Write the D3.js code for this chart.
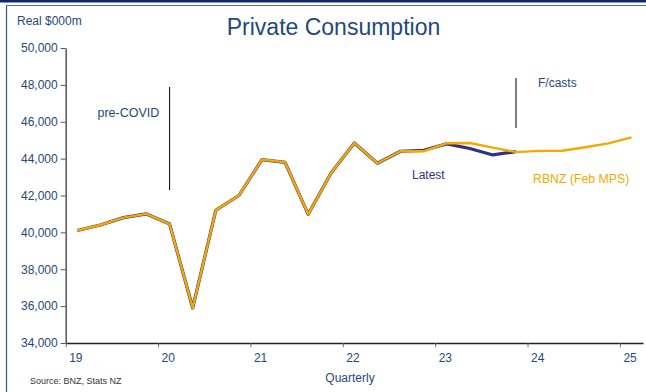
<!DOCTYPE html>
<html>
<head>
<meta charset="utf-8">
<script src="https://cdn.jsdelivr.net/npm/d3@7"></script>
<style>
  body { margin: 0; background: #fff; }
  text { font-family: "Liberation Sans", Arial, sans-serif; }
</style>
</head>
<body>
<div class="chart-container"></div>
<script>
// Data
const quarters = [
    '19Q1', '19Q2', '19Q3', '19Q4',
    '20Q1', '20Q2', '20Q3', '20Q4',
    '21Q1', '21Q2', '21Q3', '21Q4',
    '22Q1', '22Q2', '22Q3', '22Q4',
    '23Q1', '23Q2', '23Q3', '23Q4',
    '24Q1', '24Q2', '24Q3', '24Q4',
    '25Q1'
];
const latest = [
    40100, 40400, 40800, 41000,
    40450, 35900, 41200, 42000,
    43950, 43800, 40980, 43230,
    44850, 43750, 44400, 44450,
    44800, 44550, 44200, 44380
];
const rbnz = [
    40100, 40400, 40800, 41000,
    40450, 35900, 41200, 42000,
    43950, 43800, 40980, 43230,
    44850, 43750, 44400, 44400,
    44830, 44850, 44600, 44350,
    44420, 44430, 44620, 44830,
    45150
];
const yTicks = [34000, 36000, 38000, 40000, 42000, 44000, 46000, 48000, 50000];
const xTicks = [19, 20, 21, 22, 23, 24, 25];

// quarter label -> position on year axis (mid quarter)
const qPos = q => +q.slice(0, 2) + (+q.slice(3) - 0.5) / 4;

const navy = '#1F497D';
const orange = '#F5A800';
const blue = '#2E3185';

const svgWidth = 646;
const svgHeight = 392;

const svg = d3.select('.chart-container')
    .append('svg')
    .attr('width', svgWidth)
    .attr('height', svgHeight);

// Frame
svg.append('rect').attr('x', 0).attr('y', 0).attr('width', svgWidth).attr('height', 2.5).style('fill', '#0B2A66');
svg.append('line').attr('x1', 6.5).attr('x2', svgWidth).attr('y1', 5.5).attr('y2', 5.5)
    .style('stroke', '#5B6B8C').style('stroke-width', 1.2);
svg.append('line').attr('x1', 6.5).attr('x2', 6.5).attr('y1', 5.5).attr('y2', svgHeight)
    .style('stroke', '#3A4E8E').style('stroke-width', 1.2);

// Scales
const xScale = d3.scaleLinear().domain([19, 25.25]).range([65.7, 643]);
const yScale = d3.scaleLinear().domain([34000, 50000]).range([343, 48]);

// Axes
const yAxis = d3.axisLeft(yScale)
    .tickValues(yTicks)
    .tickFormat(d3.format(','))
    .tickSizeInner(5)
    .tickSizeOuter(0);

const yAxisDraw = svg.append('g')
    .attr('transform', 'translate(' + xScale(19) + ',0)')
    .call(yAxis);
yAxisDraw.select('.domain').style('stroke', '#555').style('stroke-width', 1.5);
yAxisDraw.selectAll('.tick line').style('stroke', '#555');
yAxisDraw.selectAll('.tick text')
    .attr('x', -8)
    .style('font-size', '12px')
    .style('fill', navy);

const xAxis = d3.axisBottom(xScale)
    .tickValues(xTicks)
    .tickFormat(d => d)
    .tickSizeInner(4)
    .tickSizeOuter(0);

const xAxisDraw = svg.append('g')
    .attr('transform', 'translate(0,' + yScale(34000) + ')')
    .call(xAxis);
xAxisDraw.select('.domain').style('stroke', '#222').style('stroke-width', 1.5);
xAxisDraw.selectAll('.tick line').style('stroke', '#666');
xAxisDraw.selectAll('.tick text')
    .attr('x', 3)
    .attr('dy', null)
    .attr('y', 19)
    .style('text-anchor', 'start')
    .style('font-size', '12px')
    .style('fill', navy);

// Lines
const line = d3.line()
    .x((d, i) => xScale(qPos(quarters[i])))
    .y(d => yScale(d));

svg.append('path')
    .datum(latest)
    .attr('d', line)
    .style('fill', 'none')
    .style('stroke', blue)
    .style('stroke-width', 3.2)
    .style('stroke-linejoin', 'round');

svg.append('path')
    .datum(rbnz)
    .attr('d', line)
    .style('fill', 'none')
    .style('stroke', orange)
    .style('stroke-width', 2.4)
    .style('stroke-linejoin', 'round');

// Marker lines
const preCovidX = xScale(qPos('20Q1'));
svg.append('line')
    .attr('x1', preCovidX).attr('x2', preCovidX)
    .attr('y1', 87).attr('y2', 190)
    .style('stroke', '#000').style('stroke-width', 1);

const fcastX = xScale(qPos('23Q4'));
svg.append('line')
    .attr('x1', fcastX).attr('x2', fcastX)
    .attr('y1', 78).attr('y2', 128)
    .style('stroke', '#000').style('stroke-width', 1);

// Texts
function addText(x, y, label, size, color, anchor) {
    svg.append('text')
        .attr('x', x)
        .attr('y', y)
        .text(label)
        .style('font-size', size)
        .style('fill', color)
        .style('text-anchor', anchor || 'start');
}

addText(333.5, 35, 'Private Consumption', '23px', navy, 'middle');
addText(17, 25, 'Real $000m', '12px', navy);
addText(97.5, 117, 'pre-COVID', '12.5px', navy);
addText(538, 87, 'F/casts', '12px', navy);
addText(412, 179, 'Latest', '12px', blue);
addText(533, 183, 'RBNZ (Feb MPS)', '12.3px', orange);
addText(350, 382, 'Quarterly', '12px', navy, 'middle');
addText(30, 384, 'Source: BNZ, Stats NZ', '9px', '#333');
</script>
</body>
</html>
